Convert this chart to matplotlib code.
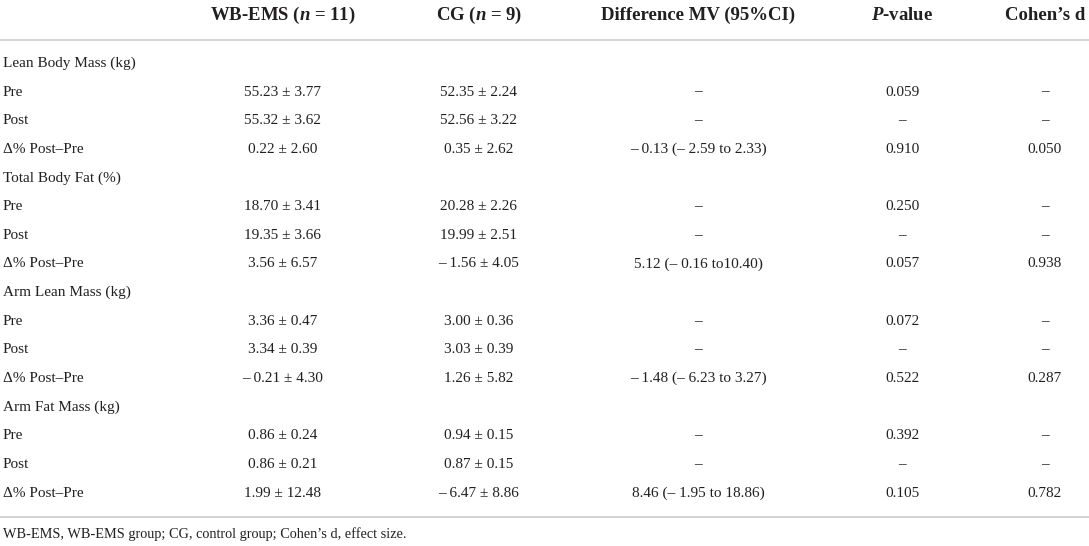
import matplotlib.pyplot as plt

plt.rcParams['font.family'] = 'Liberation Serif'
plt.rcParams['mathtext.fontset'] = 'custom'
plt.rcParams['mathtext.rm'] = 'Liberation Serif:bold'
plt.rcParams['mathtext.it'] = 'Liberation Serif:italic:bold'
plt.rcParams['mathtext.bf'] = 'Liberation Serif:bold'

# table content
headers = [r"WB-EMS ($n$ = 11)", r"CG ($n$ = 9)", "Difference MV (95%CI)",
           r"$P$-value", "Cohen\u2019s d"]
measures = ["Lean Body Mass (kg)", "Total Body Fat (%)",
            "Arm Lean Mass (kg)", "Arm Fat Mass (kg)"]
timepoints = ["Pre", "Post", "\u0394% Post\u2013Pre"]

wb_mean = [[55.23, 55.32, 0.22], [18.70, 19.35, 3.56],
           [3.36, 3.34, -0.21], [0.86, 0.86, 1.99]]
wb_sd = [[3.77, 3.62, 2.60], [3.41, 3.66, 6.57],
         [0.47, 0.39, 4.30], [0.24, 0.21, 12.48]]
cg_mean = [[52.35, 52.56, 0.35], [20.28, 19.99, -1.56],
           [3.00, 3.03, 1.26], [0.94, 0.87, -6.47]]
cg_sd = [[2.24, 3.22, 2.62], [2.26, 2.51, 4.05],
         [0.36, 0.39, 5.82], [0.15, 0.15, 8.86]]
diff_ci = ["\u2013 0.13 (\u2013 2.59 to 2.33)",
           "5.12 (\u2013 0.16 to10.40)",
           "\u2013 1.48 (\u2013 6.23 to 3.27)",
           "8.46 (\u2013 1.95 to 18.86)"]
p_pre = ["0.059", "0.250", "0.072", "0.392"]
p_delta = ["0.910", "0.057", "0.522", "0.105"]
cohens_d = ["0.050", "0.938", "0.287", "0.782"]
footnote = "WB-EMS, WB-EMS group; CG, control group; Cohen\u2019s d, effect size."

DASH = "\u2013"
col_x = [283, 479, 698, 902, 1045]
txt = '#231f20'
line_c = '#c8c8c8'


def fmt(v):
    if v < 0:
        return f"{DASH} {abs(v):.2f}"
    return f"{v:.2f}"


fig = plt.figure(figsize=(10.89, 5.46), dpi=100)
ax = fig.add_axes([0, 0, 1, 1])
ax.set_xlim(0, 1089)
ax.set_ylim(546, 0)
ax.axis('off')

for x, h in zip(col_x, headers):
    ax.text(x, 20, h, ha='center', va='baseline', fontsize=13.5,
            fontweight='bold', color=txt)

ax.plot([0, 1089], [39.5, 39.5], color=line_c, lw=1.1)
ax.plot([0, 1089], [517, 517], color=line_c, lw=1.1)

row = 0
for m in range(len(measures)):
    y = 67 + 28.64 * row
    ax.text(3, y, measures[m], ha='left', va='baseline', fontsize=11, color=txt)
    row += 1
    for t in range(3):
        y = 67 + 28.64 * row
        ax.text(3, y, timepoints[t], ha='left', va='baseline', fontsize=11, color=txt)
        cells = [f"{fmt(wb_mean[m][t])} \u00b1 {wb_sd[m][t]:.2f}",
                 f"{fmt(cg_mean[m][t])} \u00b1 {cg_sd[m][t]:.2f}"]
        if t == 0:
            cells += [DASH, p_pre[m], DASH]
        elif t == 1:
            cells += [DASH, DASH, DASH]
        else:
            cells += [diff_ci[m], p_delta[m], cohens_d[m]]
        for x, c in zip(col_x, cells):
            ax.text(x, y, c, ha='center', va='baseline', fontsize=11, color=txt)
        row += 1

ax.text(3, 538, footnote, ha='left', va='baseline', fontsize=10.3, color=txt)

fig.savefig('out.png', dpi=100)
